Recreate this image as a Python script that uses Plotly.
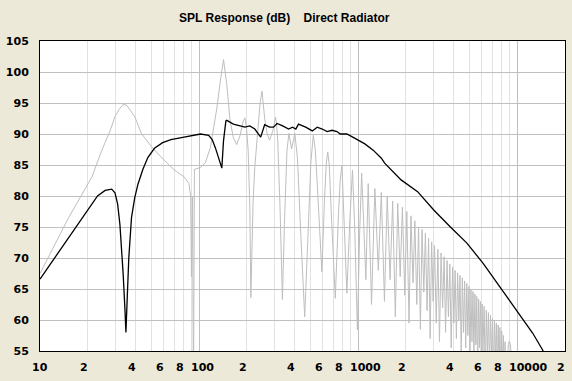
import math
import plotly.graph_objects as go

# ---- data (frequency in Hz, level in dB) ----
black_freq = [10, 19.3, 23.0, 25.67, 28.25, 29.61, 30.78, 31.8, 32.58, 33.34, 34.16, 34.7, 35.3,
              36.17, 37.6, 39.4, 41.3, 44.36, 47.64, 52.44, 59.03, 66.56, 80.5, 92.84, 102.2,
              115.0, 120.9, 126.6, 132.7, 139.1, 142.5, 147.5, 149.4, 164.4, 194.3, 208.7,
              224.1, 244.2, 258.5, 277.7, 294.0, 309.6, 335.7, 365.8, 387.3, 406.0, 422.0, 468.4,
              515.4, 553.5, 594.7, 638.8, 686.2, 736.9, 772.3, 849.9, 956.8, 1103, 1244, 1401,
              1469, 1864, 2367, 3000, 3807, 4833, 6130, 7779, 9872, 12515, 14437, 15500]
black_db = [66.6, 77.2, 80.0, 80.9, 81.1, 80.5, 78.7, 75.4, 71.7, 67.4, 62.0, 58.0, 63.1,
            70.0, 76.5, 79.7, 81.9, 84.3, 86.2, 87.7, 88.6, 89.1, 89.5, 89.8, 90.0,
            89.8, 89.1, 87.8, 86.2, 84.5, 88.9, 92.1, 92.2, 91.6, 91.1, 91.3,
            90.8, 89.5, 91.5, 91.1, 91.1, 91.7, 91.3, 90.8, 91.1, 90.8, 91.6, 91.1,
            90.5, 91.1, 90.8, 90.4, 90.6, 90.4, 90.0, 90.0, 89.3, 88.4, 87.4, 86.1,
            85.3, 82.6, 80.7, 77.7, 75.0, 72.4, 69.1, 65.4, 61.6, 57.9, 55.2, 53.5]

gray_freq_low = [10, 15.13, 21.23, 24.49, 27.57, 29.61, 31.5, 33.44, 35.2, 36.8, 39.40, 43.37,
                 50.03, 57.70, 69.77, 80.48, 86.45, 88.59, 89.60, 91.02, 92.19, 93.52, 102.2,
                 109.7, 117.8, 123.5, 129.5, 136.0, 142.5, 149.4, 156.8, 164.4, 172.4, 180.9,
                 189.6, 194.3, 198.8, 203.7, 208.7, 211.7, 218.8, 224.1, 234.9, 242.0, 248.7,
                 253.5, 258.5, 268.3, 277.7, 291.1, 297.5, 302.6, 307.5, 312.6, 323.1, 334.4,
                 344.1, 357.1, 367.4, 381.9, 400.3, 416.0, 434.2, 461.7, 486.7, 505.0, 523.0,
                 538.0, 553.6, 592.0, 616.2, 632.0, 644.9, 659.0, 676.1, 719.0, 752.7, 772.0,
                 791.3, 820, 850.0, 887, 922.0, 952, 990.1, 1023, 1053, 1083, 1119, 1158]
gray_db_low = [67.5, 76.5, 83.1, 87.4, 90.5, 92.8, 94.0, 94.8, 94.6, 93.9, 92.8, 90.1,
               88.0, 86.3, 84.2, 83.1, 82.0, 79.9, 67.0, 80.0, 45.0, 84.3, 84.6,
               85.4, 87.8, 91.0, 94.2, 98.5, 102.0, 98.0, 92.1, 89.4, 88.3, 89.7,
               92.1, 92.6, 91.0, 87.3, 78.0, 63.6, 79.2, 84.6, 91.6, 95.0, 96.9,
               95.0, 92.6, 90.0, 89.0, 90.5, 92.2, 92.7, 91.5, 88.9, 78.1, 63.3,
               75.4, 87.3, 90.1, 87.6, 90.1, 86.0, 75.0, 60.5, 75.0, 85.5, 89.8,
               87.5, 82.0, 67.8, 80.0, 85.5, 87.1, 85.0, 78.0, 63.5, 77.0, 82.5,
               85.0, 76.0, 64.3, 76.0, 84.2, 75.0, 58.4, 74.0, 83.7, 76.0, 66.5, 82.0]

gray_freq_high = [1215, 1275, 1340, 1400, 1465, 1525, 1590, 1650, 1715, 1775, 1840, 1900,
                  1965, 2025, 2090, 2150, 2215, 2275, 2340, 2400, 2465, 2525, 2590, 2650,
                  2715, 2775, 2840, 2900, 2965, 3025, 3100, 3175, 3250, 3325, 3400, 3475,
                  3550, 3625, 3700, 3775, 3850, 3925, 4000, 4075, 4150, 4225, 4300, 4375,
                  4450, 4525, 4600, 4675, 4750, 4825, 4900, 4975, 5050, 5125, 5200, 5275,
                  5350, 5425, 5500, 5575, 5650, 5725, 5800, 5875, 5950, 6025, 6100, 6200,
                  6300, 6400, 6500, 6600, 6700, 6800, 6900, 7000, 7100, 7200, 7300, 7400,
                  7500, 7600, 7700, 7800, 7900, 8000, 8100, 8200, 8300, 8400, 8500, 8600,
                  8800, 8940, 9100, 9300, 9600]
gray_db_high = [62.5, 81.2, 68.0, 80.6, 63.0, 80.0, 66.5, 79.2, 60.5, 78.8, 67.0, 78.2,
                64.0, 77.5, 59.5, 76.8, 66.0, 76.0, 62.5, 75.0, 58.5, 74.6, 64.5, 74.0,
                61.5, 73.2, 57.0, 72.6, 63.0, 72.0, 59.5, 71.4, 56.5, 70.8, 62.0, 70.2,
                58.0, 69.6, 60.5, 69.0, 55.5, 68.5, 59.5, 68.0, 57.0, 67.6, 60.0, 67.2,
                54.0, 66.8, 58.0, 66.3, 55.5, 65.9, 57.5, 65.4, 53.0, 65.0, 56.5, 64.6,
                54.5, 64.2, 56.0, 63.8, 52.0, 63.4, 55.5, 63.0, 53.5, 62.6, 55.0, 62.2,
                51.0, 61.6, 54.5, 61.2, 52.5, 60.8, 54.0, 60.3, 50.5, 59.9, 53.5, 59.5,
                51.5, 59.2, 53.0, 58.8, 50.0, 58.2, 52.5, 57.5, 50.0, 56.5, 48.0, 51.0,
                56.0, 56.6, 55.8, 52.0, 45.0]

gray_freq = gray_freq_low + gray_freq_high
gray_db = gray_db_low + gray_db_high

y_ticks = [55, 60, 65, 70, 75, 80, 85, 90, 95, 100, 105]
x_label_vals = [10, 20, 40, 60, 80, 100, 200, 400, 600, 800, 1000, 2000, 4000, 6000, 8000, 10000, 20000]
x_label_text = ["10", "2", "4", "6", "8", "100", "2", "4", "6", "8", "1000", "2", "4", "6", "8", "10000", "2"]
major_grid = [100, 1000, 10000]
minor_grid = [20, 30, 40, 50, 60, 70, 80, 90, 200, 300, 400, 500, 600, 700, 800, 900,
              2000, 3000, 4000, 5000, 6000, 7000, 8000, 9000]

BG = "#ECE9D8"
tick_font = dict(family="DejaVu Sans", size=11, color="black", weight="bold")

fig = go.Figure()
fig.add_trace(go.Scatter(x=gray_freq, y=gray_db, mode="lines",
                         line=dict(color="#BEBEBE", width=1), hoverinfo="skip"))
fig.add_trace(go.Scatter(x=black_freq, y=black_db, mode="lines",
                         line=dict(color="black", width=1.3), hoverinfo="skip"))

annotations = []
for v, t in zip(x_label_vals, x_label_text):
    annotations.append(dict(x=math.log10(v), y=0, xref="x", yref="paper", text=t,
                            showarrow=False, xanchor="left", yanchor="top",
                            xshift=-10, yshift=-8, font=tick_font))

fig.update_layout(
    width=572, height=381,
    margin=dict(l=34, r=6, t=41, b=30),
    paper_bgcolor=BG, plot_bgcolor="white",
    showlegend=False,
    title=dict(text="SPL Response (dB)\u00a0\u00a0\u00a0 Direct Radiator",
               x=0.497, xref="container", y=1 - 18 / 381, yref="container",
               xanchor="center", yanchor="middle",
               font=dict(family="Liberation Sans", size=12, color="black", weight="bold")),
    annotations=annotations,
    xaxis=dict(type="log", range=[1, math.log10(20000)],
               tickvals=major_grid, showticklabels=False, ticks="",
               showgrid=True, gridcolor="#C0C0C0", gridwidth=1,
               minor=dict(tickvals=minor_grid, showgrid=True, gridcolor="#E2E2E2",
                          gridwidth=1, ticks=""),
               showline=True, mirror=True, linecolor="black", linewidth=1,
               zeroline=False),
    yaxis=dict(range=[55, 105], tickvals=y_ticks, ticks="outside", ticklen=8,
               tickcolor=BG, tickfont=tick_font,
               showgrid=True, gridcolor="#C0C0C0", gridwidth=1,
               showline=True, mirror=True, linecolor="black", linewidth=1,
               zeroline=False),
)

fig.write_html("out.html", config={"displayModeBar": False},
               post_script="document.body.style.margin='0';")
